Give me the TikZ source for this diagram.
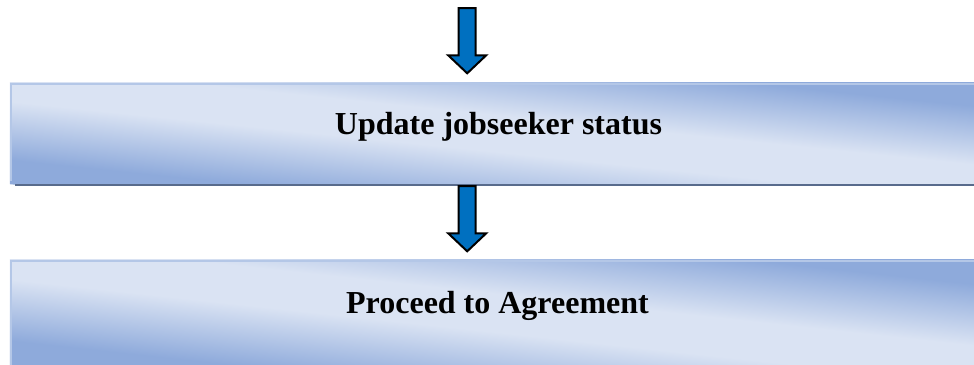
\documentclass[tikz,border=0pt]{standalone}
\usepackage{fontspec}
\setmainfont{Liberation Serif}
\usetikzlibrary{calc}

\definecolor{barlight}{HTML}{DAE3F3}
\definecolor{bardark}{HTML}{8EAADB}
\definecolor{barrim}{HTML}{B4C7E7}
\definecolor{barshadow}{HTML}{586B8C}
\definecolor{arrowblue}{HTML}{0070C0}

% light band in the middle, darker towards both sides
\pgfdeclareverticalshading{barshade}{100bp}{%
  color(0bp)=(bardark); color(31bp)=(bardark);
  color(45.5bp)=(barlight); color(54.5bp)=(barlight);
  color(69bp)=(bardark); color(100bp)=(bardark)}

\tikzset{
  bar/.style={rectangle, draw=none, inner sep=0pt, minimum width=976pt},
  rim/.style={barrim, line width=2pt},
  dropline/.style={barshadow, line width=2pt},
  steptext/.style={inner sep=0pt, anchor=base,
    font=\fontsize{32}{38}\selectfont\bfseries},
  blockarrow/.style={draw=black, fill=arrowblue, line width=2pt, line join=miter},
}

% fill a bar with the shading tilted along its falling diagonal (#2 degrees)
\newcommand\barfill[2]{%
  \begin{scope}
    \clip (#1.south west) rectangle (#1.north east);
    \path let \p1=($(#1.north east)-(#1.south west)$),
              \n1={abs(\x1)*sin(#2)+abs(\y1)*cos(#2)} in
      [shading=barshade, transform canvas={rotate around={-#2:(#1.center)}}]
      (#1.center) ++(-520pt,-0.5*\n1) [shade] rectangle ++(1040pt,\n1);
  \end{scope}}

% block arrow from the middle of its tail (#1) down to its tip (#2)
\newcommand\blockarrowdraw[2]{%
  \draw[blockarrow] let \p1=(#1), \p2=(#2) in
    (\x1-8.5pt,\y1) -- (\x1+8.5pt,\y1) -- (\x1+8.5pt,\y2+18pt)
    -- (\x1+19pt,\y2+18pt) -- (\x1,\y2) -- (\x1-19pt,\y2+18pt)
    -- (\x1-8.5pt,\y2+18pt) -- cycle;}

\begin{document}
\begin{tikzpicture}[x=1pt, y=-1pt]
  \useasboundingbox (0,0) rectangle (974,364);
  \clip (0,0) rectangle (974,364);

  % step bars
  \node[bar, minimum height=101pt] (b1) at (498,133.5) {};
  \node[bar, minimum height=106pt] (b2) at (498,313) {};
  \barfill{b1}{5.9}
  \barfill{b2}{6.2}

  % bevel edges
  \draw[rim] ($(b1.south west)+(1,-3)$) -- ($(b1.north west)+(1,1)$) -- ($(b1.north east)+(0,1)$);
  \draw[dropline] ($(b1.south west)+(5,1)$) -- ($(b1.south east)+(0,1)$);
  \draw[rim] ($(b2.south west)+(1,0)$) -- ($(b2.north west)+(1,1)$) -- ($(b2.north east)+(0,1)$);

  % labels
  \node[steptext] (t1) at (498.5,134.3) {Update jobseeker status};
  \node[steptext] (t2) at (497.5,313.3) {Proceed to Agreement};

  % flow arrows
  \coordinate (src) at (467.2,8);
  \blockarrowdraw{src}{$(b1.north -| src)+(0,-9.5)$}
  \coordinate (mid) at ($(b1.south -| src)+(0,2)$);
  \blockarrowdraw{mid}{$(b2.north -| src)+(0,-8.5)$}
\end{tikzpicture}
\end{document}
